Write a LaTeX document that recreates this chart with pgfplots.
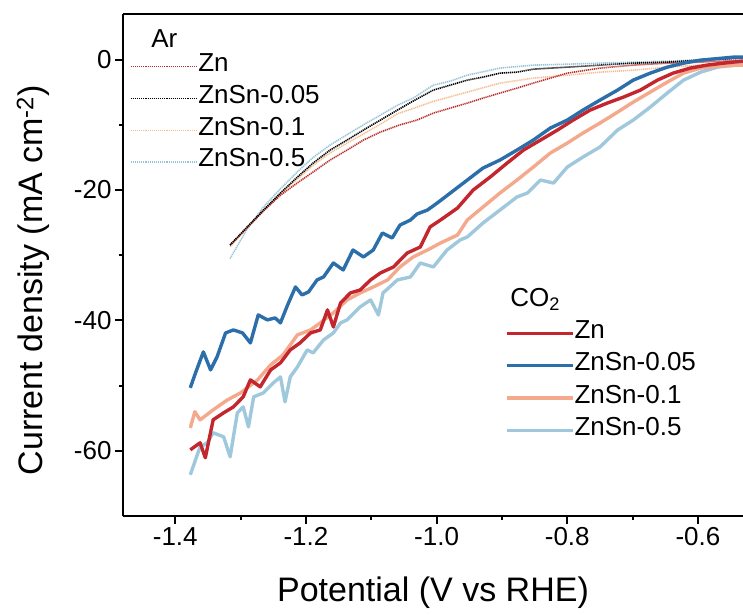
\documentclass[border=0pt]{standalone}
\usepackage{fontspec}
\setmainfont{Liberation Sans}
\usepackage{pgfplots}
\pgfplotsset{compat=1.18}
\definecolor{cred}{RGB}{196,38,46}
\definecolor{cblue}{RGB}{43,110,170}
\definecolor{csalmon}{RGB}{244,168,140}
\definecolor{clblue}{RGB}{160,200,220}
\definecolor{ared}{RGB}{185,45,45}
\definecolor{aorange}{RGB}{245,190,145}
\definecolor{alblue}{RGB}{150,195,215}
\newcommand\fs{\fontsize{26}{31}\selectfont}
\newcommand\fl{\fontsize{34}{40}\selectfont}
\pgfplotsset{
  co2/.style={line width=3.4pt, line join=round},
  arl/.style={line width=1.6pt, dash pattern=on 1.2pt off 0.8pt},
  arleg/.style={line width=1.1pt, densely dotted},
  leglen/.style={legend image code/.code={\path (0pt,0pt) -- (66pt,0pt);\draw[##1] (0pt,0pt) -- (60pt,0pt);}},
}
\begin{document}
\begin{tikzpicture}
\begin{axis}[
  at={(0pt,0pt)}, anchor=south west, scale only axis, width=620pt, height=502pt,
  xmin=-1.48, xmax=-0.531, ymin=-70, ymax=7,
  axis x line=box, axis y line=left,
  axis line style={-, line width=2.2pt, black},
  tick align=outside, tick pos=left,
  xtick={-1.4,-1.2,-1.0,-0.8,-0.6}, xticklabels={-1.4,-1.2,-1.0,-0.8,-0.6},
  minor x tick num=1,
  ytick={-60,-40,-20,0}, yticklabels={-60,-40,-20,0}, minor y tick num=1,
  major tick length=8pt, minor tick length=4pt,
  every tick/.style={black, line width=2pt},
  tick label style={font=\fs},
  /pgf/number format/assume math mode=true,
  xlabel={Potential (V vs RHE)},
  ylabel={Current density (mA cm\textsuperscript{-2})},
  label style={font=\fl},
  xlabel style={at={(axis description cs:0.5,-0.153)}, anchor=center},
  ylabel style={at={(axis description cs:-0.145,0.47)}, anchor=center},
  leglen,
  legend cell align=left,
  legend style={draw=none, fill=none, font=\fs, at={(axis description cs:0.616,0.386)}, anchor=north west,
    inner sep=0pt, row sep=10.3pt, nodes={inner sep=0pt, text height=16pt, text depth=6pt}},
]
\addlegendimage{co2, cred}\addlegendentry{Zn}
\addlegendimage{co2, cblue}\addlegendentry{ZnSn-0.05}
\addlegendimage{co2, csalmon}\addlegendentry{ZnSn-0.1}
\addlegendimage{co2, clblue}\addlegendentry{ZnSn-0.5}

% Ar: ZnSn-0.5
\addplot[arl, alblue, forget plot] coordinates {
(-1.316,-30.5)(-1.305,-28.6)(-1.290,-26.0)(-1.265,-22.6)(-1.239,-19.8)(-1.213,-17.2)(-1.189,-15.0)(-1.163,-13.1)(-1.137,-11.5)(-1.112,-10.0)(-1.086,-8.5)(-1.060,-7.0)(-1.036,-5.9)(-1.005,-3.91)(-0.979,-3.3)(-0.953,-2.38)(-0.903,-1.30)(-0.852,-0.84)(-0.800,-0.7)(-0.750,-0.54)(-0.699,-0.38)(-0.647,-0.23)(-0.596,0.0)(-0.531,0.3)};
% Ar: ZnSn-0.1
\addplot[arl, aorange, forget plot] coordinates {
(-1.316,-28.7)(-1.290,-25.8)(-1.265,-23.2)(-1.239,-20.6)(-1.213,-18.3)(-1.189,-16.2)(-1.163,-14.3)(-1.137,-12.8)(-1.112,-11.4)(-1.086,-9.9)(-1.060,-8.3)(-1.036,-7.5)(-1.005,-6.4)(-0.953,-4.98)(-0.903,-3.60)(-0.852,-2.84)(-0.800,-2.38)(-0.750,-1.92)(-0.699,-1.61)(-0.647,-1.15)(-0.596,-0.84)(-0.531,-1.00)};
% Ar: Zn
\addplot[arl, ared, forget plot] coordinates {
(-1.316,-28.43)(-1.290,-25.8)(-1.265,-23.2)(-1.239,-20.8)(-1.213,-18.9)(-1.189,-17.24)(-1.163,-15.40)(-1.137,-13.87)(-1.112,-12.34)(-1.086,-11.11)(-1.056,-10.0)(-1.030,-9.27)(-1.005,-8.20)(-0.979,-7.43)(-0.953,-6.67)(-0.929,-5.90)(-0.903,-5.13)(-0.877,-4.37)(-0.852,-3.60)(-0.826,-2.84)(-0.800,-2.07)(-0.750,-1.30)(-0.699,-0.84)(-0.647,-0.54)(-0.596,-0.38)(-0.531,-0.08)};
% Ar: ZnSn-0.05
\addplot[arl, black, forget plot] coordinates {
(-1.316,-28.43)(-1.290,-25.67)(-1.265,-23.07)(-1.239,-20.46)(-1.213,-18.01)(-1.189,-15.86)(-1.163,-13.87)(-1.137,-12.34)(-1.112,-10.80)(-1.086,-9.27)(-1.060,-7.74)(-1.036,-6.36)(-1.005,-4.67)(-0.979,-3.91)(-0.953,-3.14)(-0.929,-2.68)(-0.903,-2.07)(-0.877,-1.92)(-0.852,-1.46)(-0.800,-1.15)(-0.750,-0.84)(-0.699,-0.54)(-0.647,-0.38)(-0.596,-0.08)(-0.531,0.23)};

% CO2: ZnSn-0.5
\addplot[co2, clblue, forget plot] coordinates {
(-1.377,-63.68)(-1.369,-61.38)(-1.362,-59.39)(-1.351,-58.77)(-1.342,-57.24)(-1.326,-57.85)(-1.316,-60.92)(-1.305,-54.18)(-1.296,-53.26)(-1.288,-56.32)(-1.280,-51.72)(-1.265,-51.11)(-1.250,-49.58)(-1.239,-48.66)(-1.232,-52.49)(-1.224,-48.66)(-1.213,-47.13)(-1.198,-44.52)(-1.189,-44.98)(-1.173,-42.99)(-1.158,-41.92)(-1.147,-40.38)(-1.137,-39.92)(-1.117,-37.93)(-1.101,-36.86)(-1.089,-39.16)(-1.082,-35.79)(-1.060,-33.79)(-1.040,-33.33)(-1.025,-31.19)(-1.005,-31.80)(-0.984,-29.20)(-0.964,-27.66)(-0.953,-27.20)(-0.929,-25.06)(-0.903,-23.07)(-0.877,-21.07)(-0.861,-20.46)(-0.841,-18.47)(-0.821,-18.93)(-0.800,-16.48)(-0.776,-14.94)(-0.750,-13.41)(-0.723,-10.80)(-0.699,-9.27)(-0.673,-7.28)(-0.647,-5.13)(-0.622,-3.14)(-0.596,-1.92)(-0.570,-1.15)(-0.531,-0.69)};
% CO2: ZnSn-0.1
\addplot[co2, csalmon, forget plot] coordinates {
(-1.377,-56.48)(-1.370,-54.0)(-1.362,-55.25)(-1.342,-53.72)(-1.320,-52.18)(-1.300,-51.11)(-1.274,-49.12)(-1.254,-46.82)(-1.235,-45.29)(-1.213,-42.22)(-1.193,-41.46)(-1.178,-40.38)(-1.158,-38.85)(-1.137,-36.86)(-1.117,-35.79)(-1.097,-34.87)(-1.075,-33.79)(-1.056,-31.80)(-1.036,-30.27)(-1.014,-29.20)(-0.994,-28.12)(-0.968,-26.90)(-0.953,-24.60)(-0.929,-22.61)(-0.903,-20.46)(-0.877,-18.47)(-0.852,-16.48)(-0.826,-14.33)(-0.800,-12.80)(-0.776,-11.26)(-0.750,-9.73)(-0.723,-8.05)(-0.699,-6.51)(-0.673,-4.98)(-0.647,-3.45)(-0.622,-2.07)(-0.596,-1.30)(-0.570,-1.00)(-0.531,-0.84)};
% CO2: Zn
\addplot[co2, cred, forget plot] coordinates {
(-1.377,-59.85)(-1.362,-58.77)(-1.354,-61.07)(-1.342,-55.25)(-1.326,-54.18)(-1.311,-53.26)(-1.296,-51.72)(-1.285,-49.12)(-1.270,-50.19)(-1.254,-47.59)(-1.239,-46.51)(-1.224,-44.52)(-1.209,-43.45)(-1.193,-41.92)(-1.178,-41.46)(-1.167,-38.39)(-1.158,-41.00)(-1.147,-37.32)(-1.132,-35.79)(-1.117,-35.33)(-1.101,-33.79)(-1.086,-32.72)(-1.066,-31.80)(-1.045,-29.66)(-1.025,-28.74)(-1.010,-25.67)(-0.994,-24.60)(-0.968,-22.76)(-0.944,-20.00)(-0.918,-18.01)(-0.892,-15.86)(-0.867,-13.87)(-0.841,-12.34)(-0.815,-10.80)(-0.791,-9.27)(-0.765,-7.74)(-0.739,-6.67)(-0.714,-5.75)(-0.688,-4.67)(-0.662,-3.14)(-0.638,-2.07)(-0.612,-1.30)(-0.586,-0.84)(-0.561,-0.54)(-0.531,-0.23)};
% CO2: ZnSn-0.05
\addplot[co2, cblue, forget plot] coordinates {
(-1.377,-50.34)(-1.369,-48.05)(-1.357,-44.83)(-1.346,-47.59)(-1.336,-45.59)(-1.323,-41.92)(-1.311,-41.46)(-1.297,-41.92)(-1.285,-43.45)(-1.273,-39.16)(-1.259,-39.92)(-1.247,-39.62)(-1.239,-40.38)(-1.228,-37.62)(-1.216,-34.87)(-1.206,-36.09)(-1.196,-35.63)(-1.183,-33.79)(-1.173,-33.33)(-1.158,-31.19)(-1.143,-32.26)(-1.128,-29.20)(-1.112,-30.27)(-1.097,-29.20)(-1.083,-26.59)(-1.068,-27.36)(-1.056,-25.37)(-1.040,-24.60)(-1.030,-23.68)(-1.014,-23.07)(-0.999,-21.99)(-0.979,-20.46)(-0.953,-18.47)(-0.929,-16.63)(-0.903,-15.40)(-0.877,-13.87)(-0.852,-12.34)(-0.826,-10.50)(-0.800,-9.27)(-0.776,-7.74)(-0.750,-6.21)(-0.723,-4.67)(-0.699,-3.14)(-0.673,-2.07)(-0.647,-1.15)(-0.622,-0.54)(-0.596,-0.08)(-0.546,0.38)(-0.531,0.38)};

\node[font=\fs, anchor=base west] at (axis description cs:0.040,0.934) {Ar};
\node[font=\fs, anchor=base west] at (axis description cs:0.619,0.418) {CO\textsubscript{2}};
\end{axis}
\begin{axis}[
  at={(0pt,0pt)}, anchor=south west, scale only axis, width=620pt, height=502pt,
  xmin=0, xmax=1, ymin=0, ymax=1, hide axis,
  legend image code/.code={\path (0pt,0pt) -- (67pt,0pt);\draw[#1] (0pt,0pt) -- (58pt,0pt);},
  legend cell align=left,
  legend style={draw=none, fill=none, font=\fs, at={(axis description cs:0.0113,0.917)}, anchor=north west,
    inner sep=0pt, row sep=9.7pt, nodes={inner sep=0pt, text height=16pt, text depth=6pt}},
]
\addlegendimage{arleg, ared}\addlegendentry{Zn}
\addlegendimage{arleg, black}\addlegendentry{ZnSn-0.05}
\addlegendimage{arleg, aorange}\addlegendentry{ZnSn-0.1}
\addlegendimage{arleg, alblue}\addlegendentry{ZnSn-0.5}
\end{axis}
\pgfresetboundingbox
\path[use as bounding box] (-123pt,-98pt) rectangle (620pt,516pt);
\end{tikzpicture}
\end{document}
